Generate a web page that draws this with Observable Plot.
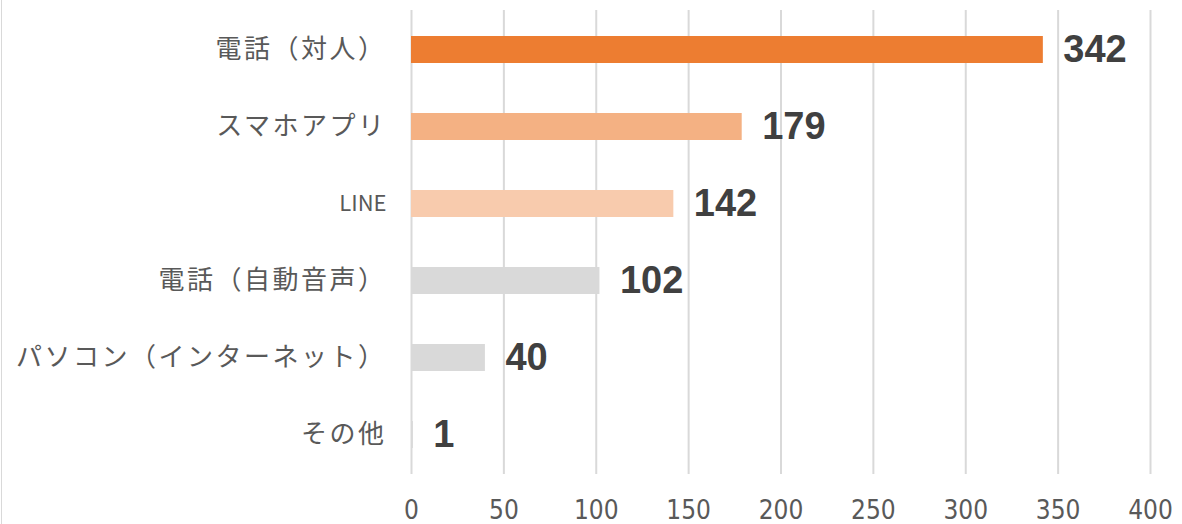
<!DOCTYPE html>
<html>
<head>
<meta charset="utf-8">
<script src="https://cdn.jsdelivr.net/npm/d3@7"></script>
<script src="https://cdn.jsdelivr.net/npm/@observablehq/plot@0.6"></script>
<style>
  html, body { margin: 0; padding: 0; background: #fff; }
  #wrap { position: relative; width: 1182px; height: 524px; overflow: hidden; }
  #edge { position: absolute; left: 1px; top: 0; width: 1px; height: 524px; background: #d9d9d9; }
  svg { display: block; }
</style>
</head>
<body>
<div id="wrap"><div id="edge"></div></div>
<script>
const categories = ["電話（対人）", "スマホアプリ", "LINE", "電話（自動音声）", "パソコン（インターネット）", "その他"];
const values = [342, 179, 142, 102, 40, 1];
const barColors = ["#ED7D31", "#F4B183", "#F8CBAD", "#D9D9D9", "#D9D9D9", "#D9D9D9"];
const xTicks = [0, 50, 100, 150, 200, 250, 300, 350, 400];

const data = categories.map((c, i) => ({category: c, value: values[i]}));

const chart = Plot.plot({
  width: 1182,
  height: 524,
  marginTop: 10,
  marginBottom: 50,
  marginLeft: 411,
  marginRight: 32,
  x: {domain: [0, 400]},
  y: {domain: categories, paddingInner: 0.645, paddingOuter: 0.3225},
  color: {domain: categories, range: barColors},
  marks: [
    Plot.gridX(xTicks, {stroke: "#d9d9d9", strokeOpacity: 1, strokeWidth: 2}),
    Plot.barX(data, {x: "value", y: "category", fill: "category"}),
    Plot.text(data, {
      x: "value", y: "category", text: d => String(d.value),
      textAnchor: "start", dx: 20,
      fontSize: 38, fontWeight: "bold", fill: "#404040",
      fontFamily: "'Liberation Sans', Arial, sans-serif"
    }),
    Plot.axisX(xTicks, {
      tickSize: 0, tickPadding: 26, fontSize: 26, fill: "#595959",
      fontFamily: "'Liberation Sans Narrow', 'DejaVu Sans Condensed', sans-serif",
      label: null
    }),
    Plot.axisY({
      tickSize: 0, tickPadding: 25, fontSize: 26, fill: "#595959",
      fontFamily: "'Noto Sans CJK JP', sans-serif",
      label: null
    })
  ]
});
chart.querySelectorAll("g[aria-label='y-axis tick label'] text").forEach(t => {
  if (/^[\x00-\x7F]+$/.test(t.textContent)) {
    t.setAttribute("font-size", "22");
  } else {
    t.setAttribute("letter-spacing", "2.5");
  }
});
document.getElementById("wrap").appendChild(chart);
</script>
</body>
</html>
